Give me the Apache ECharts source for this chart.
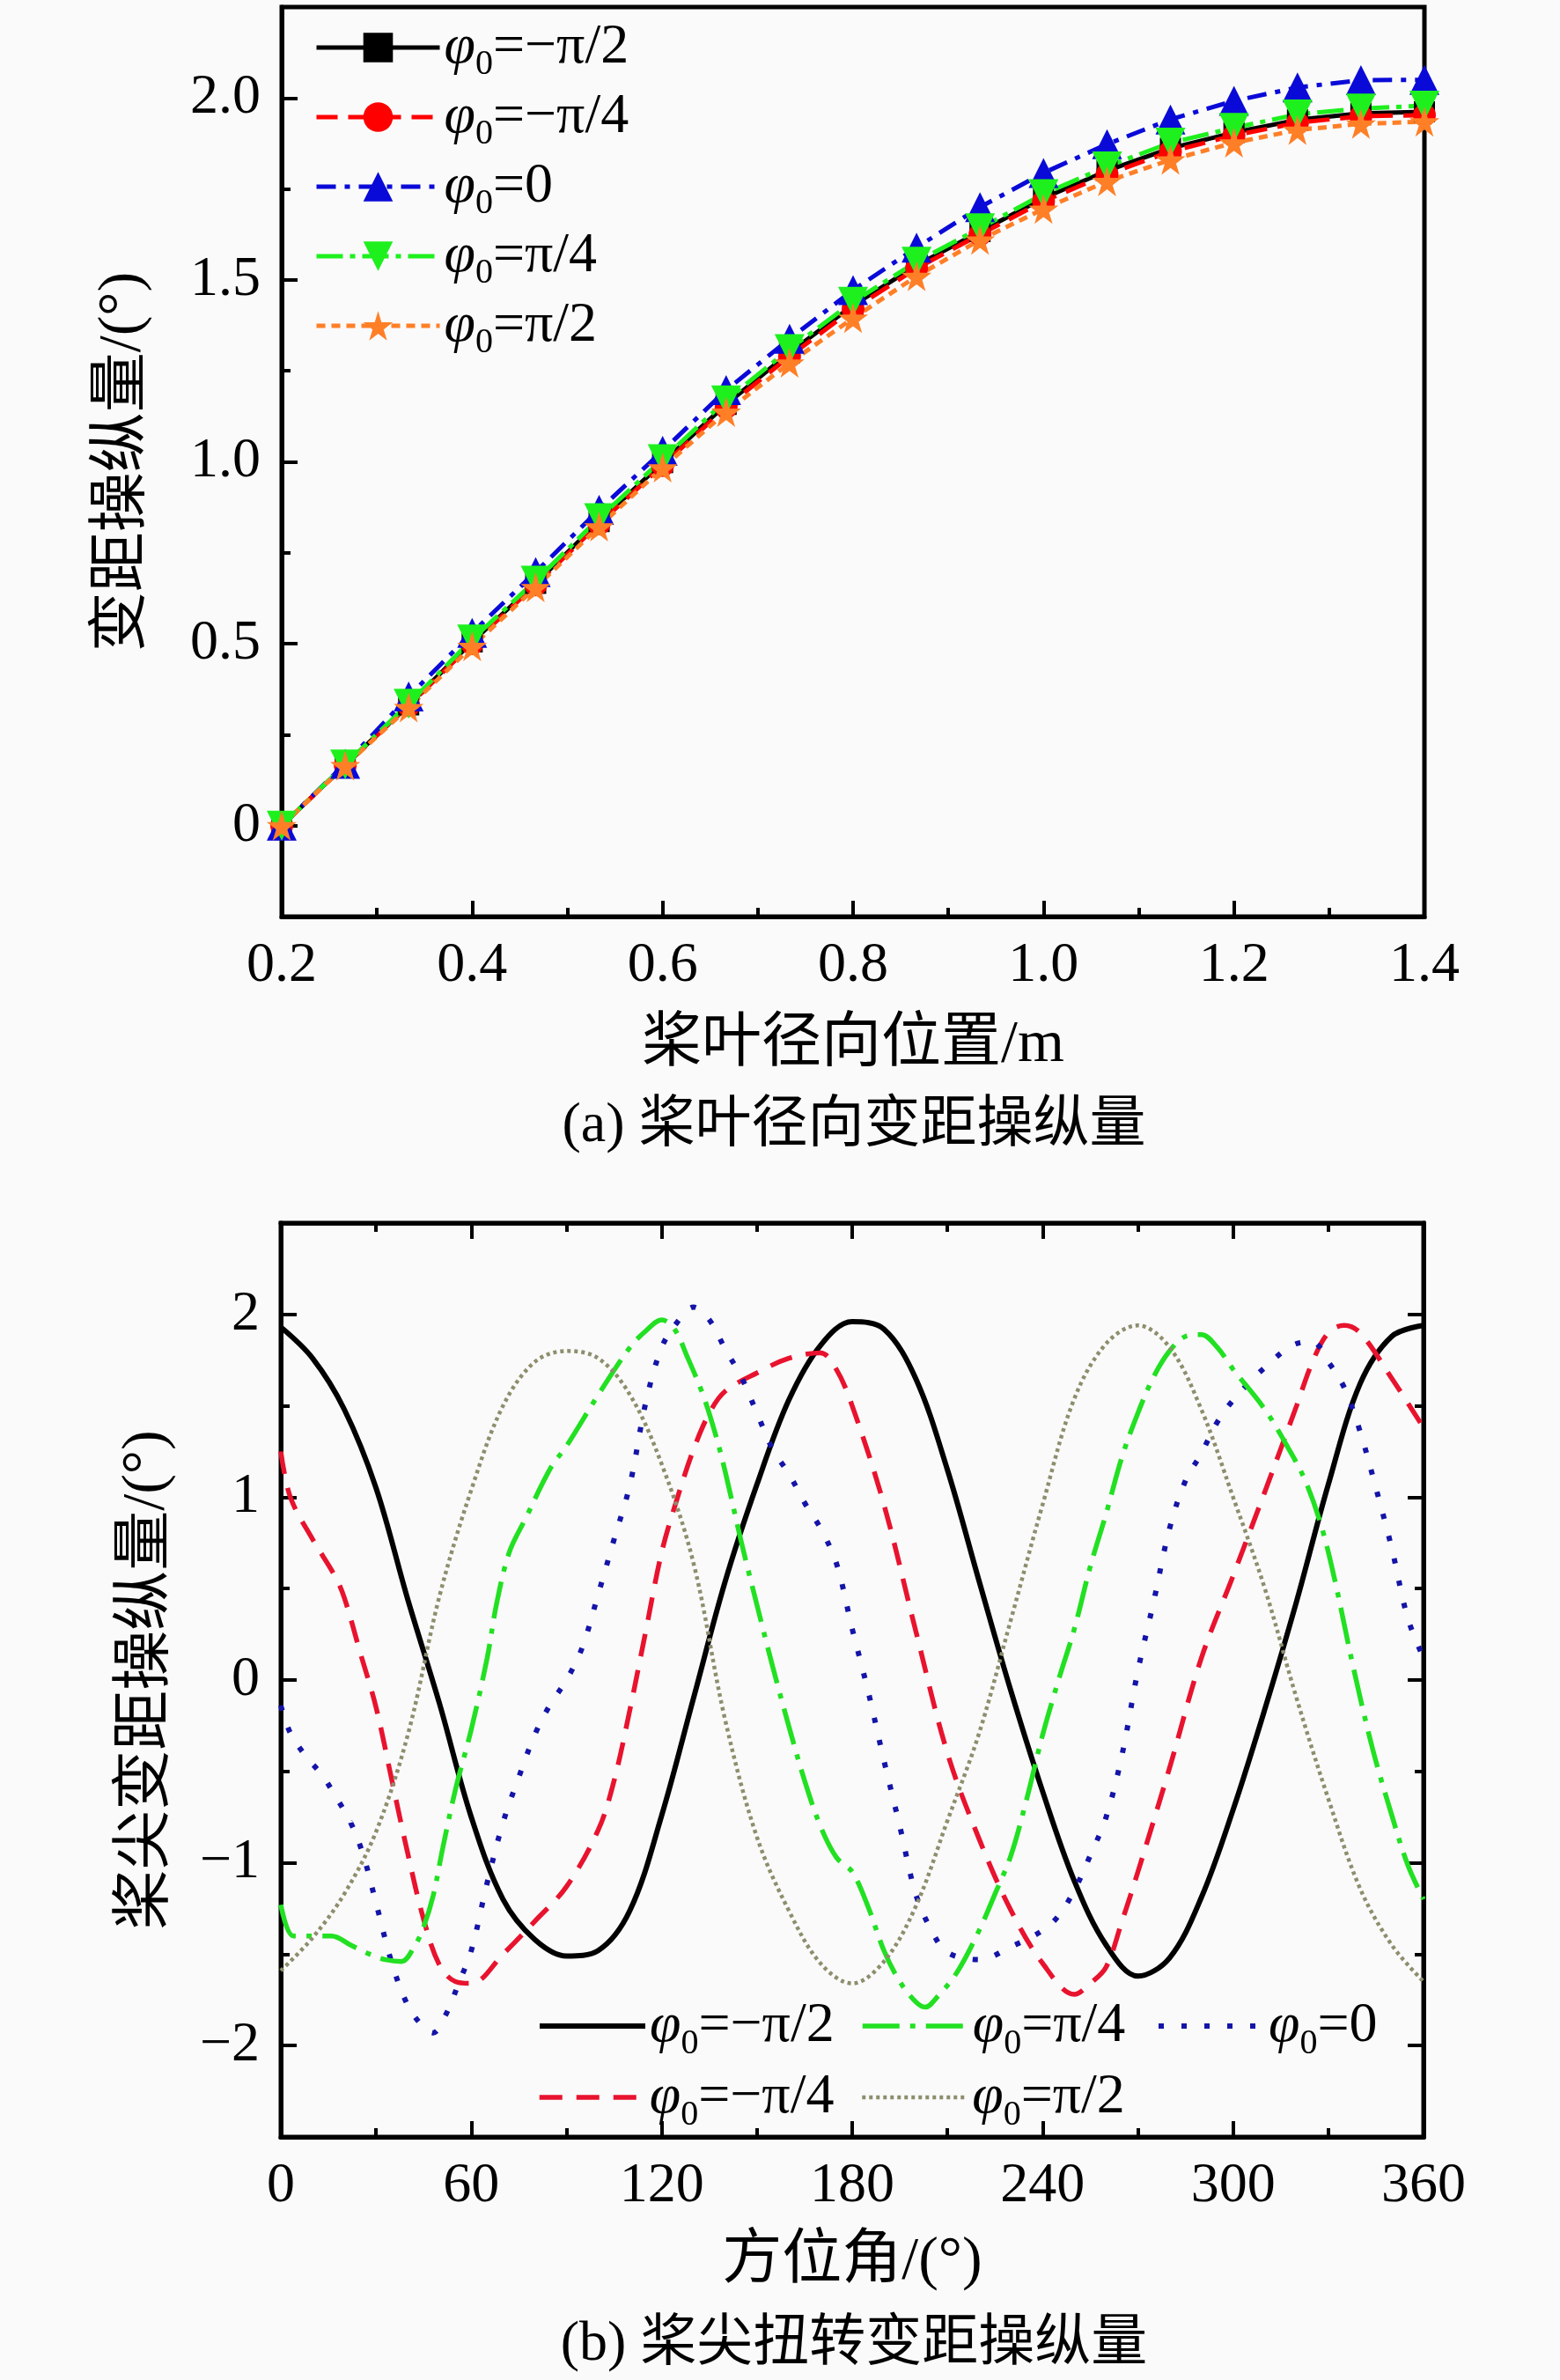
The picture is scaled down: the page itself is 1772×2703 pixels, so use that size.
<!DOCTYPE html>
<html>
<head>
<meta charset="utf-8">
<script src="https://cdn.jsdelivr.net/npm/echarts@6/dist/echarts.min.js"></script>
<style>
  html, body { margin: 0; padding: 0; background: #fafafa; }
  #chart { width: 1772px; height: 2703px; }
</style>
</head>
<body>
<div id="chart"></div>
<script>
// ---- (a) radial distribution ----
var radialPos = [0.2, 0.2667, 0.3333, 0.4, 0.4667, 0.5333, 0.6, 0.6667, 0.7333, 0.8,
                 0.8667, 0.9333, 1.0, 1.0667, 1.1333, 1.2, 1.2667, 1.3333, 1.4];
var pitchNegHalfPi    = [0, 0.167, 0.332, 0.505, 0.666, 0.836, 0.998, 1.158, 1.300, 1.430,
                         1.540, 1.633, 1.725, 1.800, 1.862, 1.905, 1.940, 1.958, 1.962];
var pitchNegQuarterPi = [0, 0.166, 0.330, 0.500, 0.662, 0.830, 0.990, 1.150, 1.290, 1.420,
                         1.532, 1.625, 1.716, 1.790, 1.853, 1.897, 1.932, 1.950, 1.953];
var pitchZero         = [0, 0.170, 0.355, 0.530, 0.697, 0.868, 1.030, 1.197, 1.338, 1.472,
                         1.589, 1.700, 1.794, 1.873, 1.941, 1.992, 2.029, 2.049, 2.050];
var pitchQuarterPi    = [0, 0.168, 0.335, 0.512, 0.673, 0.845, 1.007, 1.169, 1.310, 1.440,
                         1.550, 1.642, 1.736, 1.812, 1.877, 1.918, 1.955, 1.971, 1.979];
var pitchHalfPi       = [0, 0.165, 0.325, 0.493, 0.655, 0.822, 0.984, 1.137, 1.272, 1.395,
                         1.510, 1.610, 1.695, 1.771, 1.830, 1.877, 1.912, 1.929, 1.935];

// ---- (b) tip pitch vs azimuth, [azimuth deg, value] ----
var tipNegHalfPi = [[0,1.93],[10,1.76],[20,1.48],[30,1.05],[40,0.44],[50,-0.13],[60,-0.75],[70,-1.20],
  [80,-1.42],[90,-1.51],[100,-1.48],[110,-1.26],[120,-0.74],[130,-0.10],[140,0.54],[150,1.07],
  [160,1.53],[170,1.83],[180,1.96],[190,1.92],[200,1.65],[210,1.15],[220,0.54],[230,-0.06],
  [240,-0.61],[250,-1.10],[260,-1.45],[270,-1.62],[280,-1.52],[290,-1.19],[300,-0.71],[310,-0.16],
  [320,0.43],[330,1.07],[340,1.62],[350,1.88],[360,1.94]];
var tipNegQuarterPi = [[0,1.25],[3,1.0],[10,0.77],[17,0.57],[20,0.45],[25,0.15],[30,-0.15],[35,-0.55],
  [40,-0.95],[45,-1.31],[50,-1.56],[55,-1.65],[60,-1.66],[70,-1.50],[80,-1.32],[90,-1.13],[100,-0.82],
  [105,-0.55],[110,-0.16],[115,0.27],[120,0.70],[125,1.0],[130,1.26],[135,1.46],[140,1.58],[150,1.68],
  [160,1.76],[170,1.79],[175,1.70],[180,1.50],[190,0.96],[200,0.27],[210,-0.40],[220,-0.87],[230,-1.26],
  [240,-1.55],[250,-1.72],[255,-1.66],[260,-1.57],[265,-1.32],[270,-1.05],[280,-0.48],[290,0.12],
  [300,0.57],[310,1.03],[320,1.50],[325,1.74],[330,1.90],[335,1.94],[340,1.90],[350,1.65],[360,1.38]];
var tipZero = [[0,-0.14],[3,-0.29],[8,-0.42],[13,-0.52],[17,-0.63],[22,-0.78],[26,-0.96],[30,-1.22],
  [35,-1.55],[40,-1.78],[45,-1.90],[48,-1.93],[52,-1.83],[56,-1.66],[60,-1.48],[65,-1.11],[70,-0.78],
  [75,-0.53],[80,-0.30],[85,-0.13],[90,0.0],[95,0.18],[100,0.47],[105,0.77],[110,1.07],[115,1.52],
  [120,1.82],[125,1.96],[130,2.04],[135,1.97],[140,1.81],[145,1.66],[150,1.46],[155,1.26],[160,1.13],
  [165,0.97],[170,0.83],[175,0.64],[180,0.28],[185,-0.06],[190,-0.44],[195,-0.80],[200,-1.17],
  [205,-1.37],[210,-1.49],[220,-1.53],[230,-1.46],[240,-1.37],[245,-1.29],[250,-1.15],[255,-0.96],
  [260,-0.75],[265,-0.41],[270,0.05],[275,0.43],[280,0.83],[285,1.09],[290,1.24],[295,1.41],[300,1.53],
  [310,1.71],[320,1.84],[325,1.85],[330,1.74],[335,1.60],[340,1.36],[345,1.05],[350,0.72],[355,0.34],
  [360,0.12]];
var tipQuarterPi = [[0,-1.23],[4,-1.40],[10,-1.40],[16,-1.40],[22,-1.45],[28,-1.50],[33,-1.53],[38,-1.54],
  [42,-1.46],[45,-1.35],[48,-1.18],[51,-0.92],[55,-0.60],[60,-0.27],[65,0.12],[68,0.42],[72,0.70],
  [77,0.88],[85,1.16],[90,1.28],[100,1.56],[110,1.82],[115,1.91],[120,1.97],[124,1.92],[128,1.77],
  [133,1.56],[137,1.34],[140,1.14],[145,0.76],[150,0.41],[155,0.07],[160,-0.25],[165,-0.55],[170,-0.80],
  [175,-0.97],[180,-1.05],[185,-1.24],[190,-1.48],[195,-1.65],[200,-1.76],[203,-1.79],[207,-1.73],
  [213,-1.60],[220,-1.37],[225,-1.17],[230,-0.96],[235,-0.65],[240,-0.30],[245,0.0],[250,0.28],
  [255,0.62],[260,0.91],[265,1.22],[270,1.46],[275,1.66],[280,1.80],[285,1.88],[290,1.89],[295,1.82],
  [300,1.70],[310,1.48],[318,1.25],[323,1.08],[328,0.83],[332,0.55],[338,0.06],[344,-0.38],[350,-0.74],
  [355,-1.01],[360,-1.20]];
var tipHalfPi = [[0,-1.59],[10,-1.41],[20,-1.17],[30,-0.83],[40,-0.30],[50,0.46],[60,1.04],[70,1.50],
  [80,1.74],[90,1.80],[100,1.76],[110,1.56],[120,1.18],[130,0.64],[140,-0.22],[150,-0.86],[160,-1.26],
  [170,-1.55],[180,-1.66],[190,-1.54],[200,-1.24],[210,-0.77],[220,-0.29],[230,0.33],[240,0.96],
  [250,1.54],[260,1.84],[270,1.94],[280,1.82],[290,1.48],[300,1.00],[310,0.50],[320,-0.10],[330,-0.65],
  [340,-1.14],[350,-1.45],[360,-1.65]];

var phaseLabels = ['−π/2', '−π/4', '0', 'π/4', 'π/2'];

var serif = '"Liberation Serif", "Noto Sans CJK SC"';
var richText = {
    p: { fontFamily: serif, fontSize: 64, fontStyle: 'italic', lineHeight: 80, color: '#000' },
    s: { fontFamily: serif, fontSize: 40, lineHeight: 40, verticalAlign: 'bottom', color: '#000' },
    t: { fontFamily: serif, fontSize: 64, lineHeight: 80, color: '#000' }
};
function legendName(name){
    return '{p|φ}{s|0}{t|=' + name.slice(2) + '}';
}
function pairs(xs, ys){
    return xs.map(function(x, i){ return [x, ys[i]]; });
}

var starPath = 'path://M50,0 L61,35 L98,35 L68,57 L79,91 L50,70 L21,91 L32,57 L2,35 L39,35 Z';

// 桨叶径向 series styles
var radialStyles = [
    { data: pitchNegHalfPi,    color: '#000000', type: 'solid',          symbol: 'rect',     size: 24, rotate: 0 },
    { data: pitchNegQuarterPi, color: '#ff0000', type: [24, 12],         symbol: 'circle',   size: 26, rotate: 0 },
    { data: pitchZero,         color: '#0a0ad8', type: [22, 10, 6, 10],  symbol: 'triangle', size: 34, rotate: 0 },
    { data: pitchQuarterPi,    color: '#1ef01e', type: [30, 8, 6, 8],    symbol: 'triangle', size: 34, rotate: 180 },
    { data: pitchHalfPi,       color: '#ff7f27', type: [10, 7],          symbol: starPath,   size: 34, rotate: 0 }
];
// 桨尖 series styles
var tipStyles = [
    { data: tipNegHalfPi,    color: '#000000', type: 'solid',          width: 6 },
    { data: tipNegQuarterPi, color: '#e8132e', type: [26, 16],         width: 5.5 },
    { data: tipZero,         color: '#1414a8', type: [6, 20],          width: 6 },
    { data: tipQuarterPi,    color: '#22e022', type: [42, 12, 6, 12],  width: 5.5 },
    { data: tipHalfPi,       color: '#8e8e6e', type: [4, 4],           width: 4.5 }
];

var series = [];
radialStyles.forEach(function(st, i){
    series.push({
        name: 'a:' + phaseLabels[i],
        type: 'line',
        xAxisIndex: 0, yAxisIndex: 0,
        data: pairs(radialPos, st.data),
        symbol: st.symbol, symbolSize: st.size, symbolRotate: st.rotate,
        showAllSymbol: true,
        itemStyle: { color: st.color },
        lineStyle: { color: st.color, width: 5, type: st.type },
        animation: false
    });
});
tipStyles.forEach(function(st, i){
    series.push({
        name: 'b:' + phaseLabels[i],
        type: 'line',
        xAxisIndex: 1, yAxisIndex: 2,
        data: st.data,
        symbol: 'none',
        smooth: 0.35,
        itemStyle: { color: st.color },
        lineStyle: { color: st.color, width: st.width, type: st.type },
        animation: false
    });
});

// bottom legend placement: [name, left, top, itemWidth, line width]
var tipLegendPos = [
    ['b:−π/2', 610, 2269, 120, 6],
    ['b:π/4',  977, 2269, 120, 5.5],
    ['b:0',   1313, 2269, 120, 6],
    ['b:−π/4', 610, 2350, 120, 5.5],
    ['b:π/2',  977, 2350, 120, 4.5]
];
var legends = [{
    data: phaseLabels.map(function(l){ return 'a:' + l; }),
    orient: 'vertical', left: 357, top: 22, padding: 0,
    itemWidth: 140, itemHeight: 42, itemGap: 7,
    formatter: legendName,
    textStyle: { rich: richText },
    lineStyle: { width: 5 },
    selectedMode: false
}];
tipLegendPos.forEach(function(p){
    legends.push({
        data: [p[0]], left: p[1], top: p[2], padding: 0,
        itemWidth: p[3], itemHeight: 20,
        formatter: legendName,
        textStyle: { rich: richText },
        lineStyle: { width: p[4] },
        itemStyle: { color: 'transparent', borderColor: 'transparent', borderWidth: 0 },
        selectedMode: false
    });
});

var black = '#000';
function valueAxis(extra){
    var base = {
        type: 'value',
        splitLine: { show: false },
        axisLine: { show: true, onZero: false, lineStyle: { color: black, width: 5 } },
        axisTick: { show: true, inside: true, length: 18, lineStyle: { color: black, width: 4 } },
        axisLabel: { color: black, fontFamily: serif, fontSize: 64, margin: 24 },
        nameTextStyle: { color: black, fontFamily: serif, fontSize: 68 }
    };
    for (var k in extra){
        if (typeof extra[k] === 'object' && !Array.isArray(extra[k]) && base[k]){
            base[k] = Object.assign({}, base[k], extra[k]);
        } else {
            base[k] = extra[k];
        }
    }
    return base;
}
function minusFmt(v){
    return v < 0 ? '−' + (-v) : String(v);
}

var option = {
    backgroundColor: '#fafafa',
    animation: false,
    grid: [
        { left: 320, top: 8, width: 1298, height: 1033, show: true, borderColor: black, borderWidth: 5, backgroundColor: 'transparent' },
        { left: 319, top: 1389, width: 1298, height: 1038, show: true, borderColor: black, borderWidth: 5, backgroundColor: 'transparent' }
    ],
    xAxis: [
        valueAxis({ gridIndex: 0, min: 0.2, max: 1.4, interval: 0.2, position: 'bottom',
            minorTick: { show: true, splitNumber: 2, length: 10, lineStyle: { color: black, width: 4 } },
            axisLabel: { formatter: function(v){ return v.toFixed(1); } },
            name: '桨叶径向位置/m', nameLocation: 'middle', nameGap: 112 }),
        valueAxis({ gridIndex: 1, min: 0, max: 360, interval: 60, position: 'bottom',
            minorTick: { show: true, splitNumber: 2, length: 10, lineStyle: { color: black, width: 4 } },
            name: '方位角/(°)', nameLocation: 'middle', nameGap: 108 }),
        valueAxis({ gridIndex: 1, min: 0, max: 360, interval: 60, position: 'top',
            minorTick: { show: true, splitNumber: 2, length: 10, lineStyle: { color: black, width: 4 } },
            axisLabel: { show: false } })
    ],
    yAxis: [
        valueAxis({ gridIndex: 0, min: -0.25, max: 2.25, interval: 0.25, position: 'left',
            axisTick: { customValues: [0, 0.5, 1, 1.5, 2] },
            axisLabel: { customValues: [0, 0.5, 1, 1.5, 2],
                formatter: function(v){ return v === 0 ? '0' : v.toFixed(1); } },
            name: '变距操纵量/(°)', nameLocation: 'middle', nameGap: 146 }),
        valueAxis({ gridIndex: 0, min: -0.25, max: 2.25, interval: 0.25, position: 'left',
            axisLine: { show: false },
            axisTick: { customValues: [0.25, 0.75, 1.25, 1.75], length: 10 },
            axisLabel: { show: false } }),
        valueAxis({ gridIndex: 1, min: -2.5, max: 2.5, interval: 0.5, position: 'left',
            axisTick: { customValues: [-2, -1, 0, 1, 2] },
            axisLabel: { customValues: [-2, -1, 0, 1, 2], formatter: minusFmt },
            name: '桨尖变距操纵量/(°)', nameLocation: 'middle', nameGap: 118 }),
        valueAxis({ gridIndex: 1, min: -2.5, max: 2.5, interval: 0.5, position: 'left',
            axisLine: { show: false },
            axisTick: { customValues: [-1.5, -0.5, 0.5, 1.5], length: 10 },
            axisLabel: { show: false } }),
        valueAxis({ gridIndex: 1, min: -2.5, max: 2.5, interval: 0.5, position: 'right',
            axisTick: { customValues: [-2, -1, 0, 1, 2] },
            axisLabel: { show: false } }),
        valueAxis({ gridIndex: 1, min: -2.5, max: 2.5, interval: 0.5, position: 'right',
            axisLine: { show: false },
            axisTick: { customValues: [-1.5, -0.5, 0.5, 1.5], length: 10 },
            axisLabel: { show: false } })
    ],
    legend: legends,
    graphic: [
        { type: 'text', x: 970, y: 1279,
          style: { text: '(a) 桨叶径向变距操纵量', fill: black, fontSize: 64, fontFamily: serif,
                   align: 'center', verticalAlign: 'middle' } },
        { type: 'text', x: 970, y: 2663,
          style: { text: '(b) 桨尖扭转变距操纵量', fill: black, fontSize: 64, fontFamily: serif,
                   align: 'center', verticalAlign: 'middle' } }
    ],
    series: series
};

var myChart = echarts.init(document.getElementById('chart'));
myChart.setOption(option);
</script>
</body>
</html>
